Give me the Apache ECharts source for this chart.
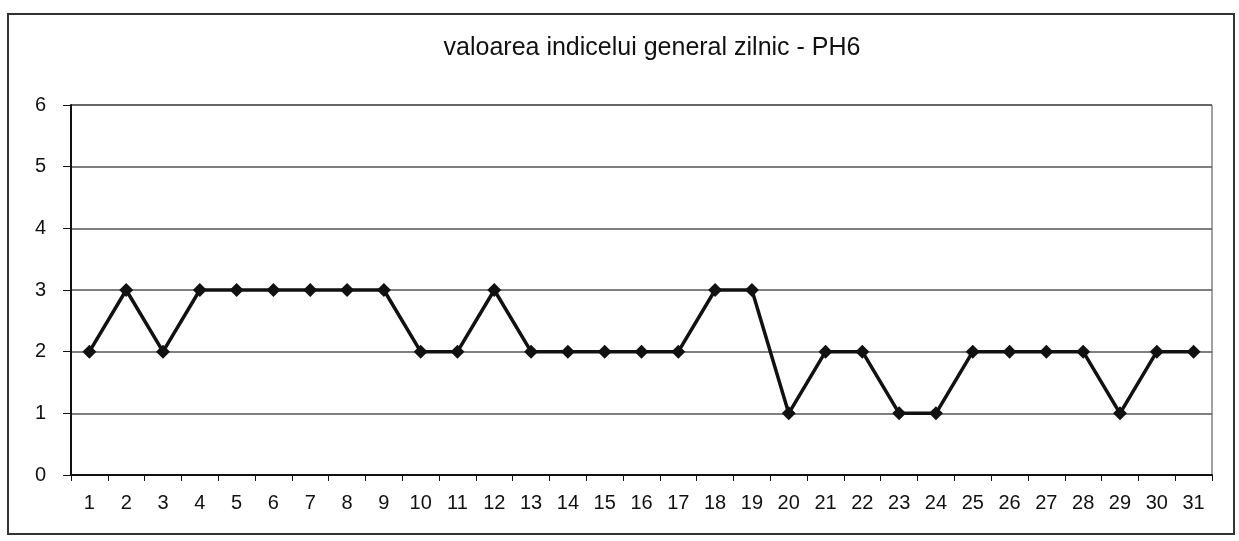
<!DOCTYPE html>
<html>
<head>
<meta charset="utf-8">
<title>valoarea indicelui general zilnic - PH6</title>
<script src="https://cdn.jsdelivr.net/npm/echarts@6/dist/echarts.min.js"></script>
<style>
    html, body { margin: 0; padding: 0; background: #fff; }
    #main { width: 1239px; height: 541px; }
</style>
</head>
<body>
<div id="main"></div>
<script>
// zilele lunii
var days = ['1','2','3','4','5','6','7','8','9','10','11','12','13','14','15','16',
            '17','18','19','20','21','22','23','24','25','26','27','28','29','30','31'];
// valoarea indicelui general
var indexValues = [2,3,2,3,3,3,3,3,3,2,2,3,2,2,2,2,2,3,3,1,2,2,1,1,2,2,2,2,1,2,2];
var yMin = 0, yMax = 6, yStep = 1;

var chartDom = document.getElementById('main');
var myChart = echarts.init(chartDom);
var option;

option = {
    backgroundColor: '#fff',
    animation: false,
    textStyle: { fontFamily: 'Liberation Sans, Arial, sans-serif' },
    title: {
        text: 'valoarea indicelui general zilnic - PH6',
        left: 647,
        textAlign: 'center',
        top: 31,
        textStyle: { fontSize: 25, fontWeight: 'normal', color: '#111' }
    },
    graphic: [{
        type: 'rect',
        shape: { x: 8, y: 14, width: 1226, height: 520 },
        style: { fill: 'none', stroke: '#333', lineWidth: 2 }
    }],
    grid: {
        left: 71,
        right: 27,
        top: 105,
        bottom: 66,
        show: true,
        borderColor: '#444',
        borderWidth: 1
    },
    xAxis: {
        type: 'category',
        data: days,
        boundaryGap: true,
        axisLine: { lineStyle: { color: '#111', width: 2 } },
        axisTick: { show: true, length: 6, lineStyle: { color: '#111' } },
        axisLabel: { interval: 0, fontSize: 20, color: '#111', margin: 18 }
    },
    yAxis: {
        type: 'value',
        min: yMin,
        max: yMax,
        interval: yStep,
        axisLine: { show: true, lineStyle: { color: '#111', width: 2 } },
        axisTick: { show: true, inside: false, length: 8, lineStyle: { color: '#111' } },
        axisLabel: { fontSize: 20, color: '#111', margin: 25 },
        splitLine: { show: true, lineStyle: { color: '#555', width: 1.5 } }
    },
    series: [{
        type: 'line',
        data: indexValues,
        symbol: 'diamond',
        symbolSize: 14,
        lineStyle: { color: '#111', width: 3.5 },
        itemStyle: { color: '#111' }
    }]
};

option && myChart.setOption(option);
</script>
</body>
</html>
